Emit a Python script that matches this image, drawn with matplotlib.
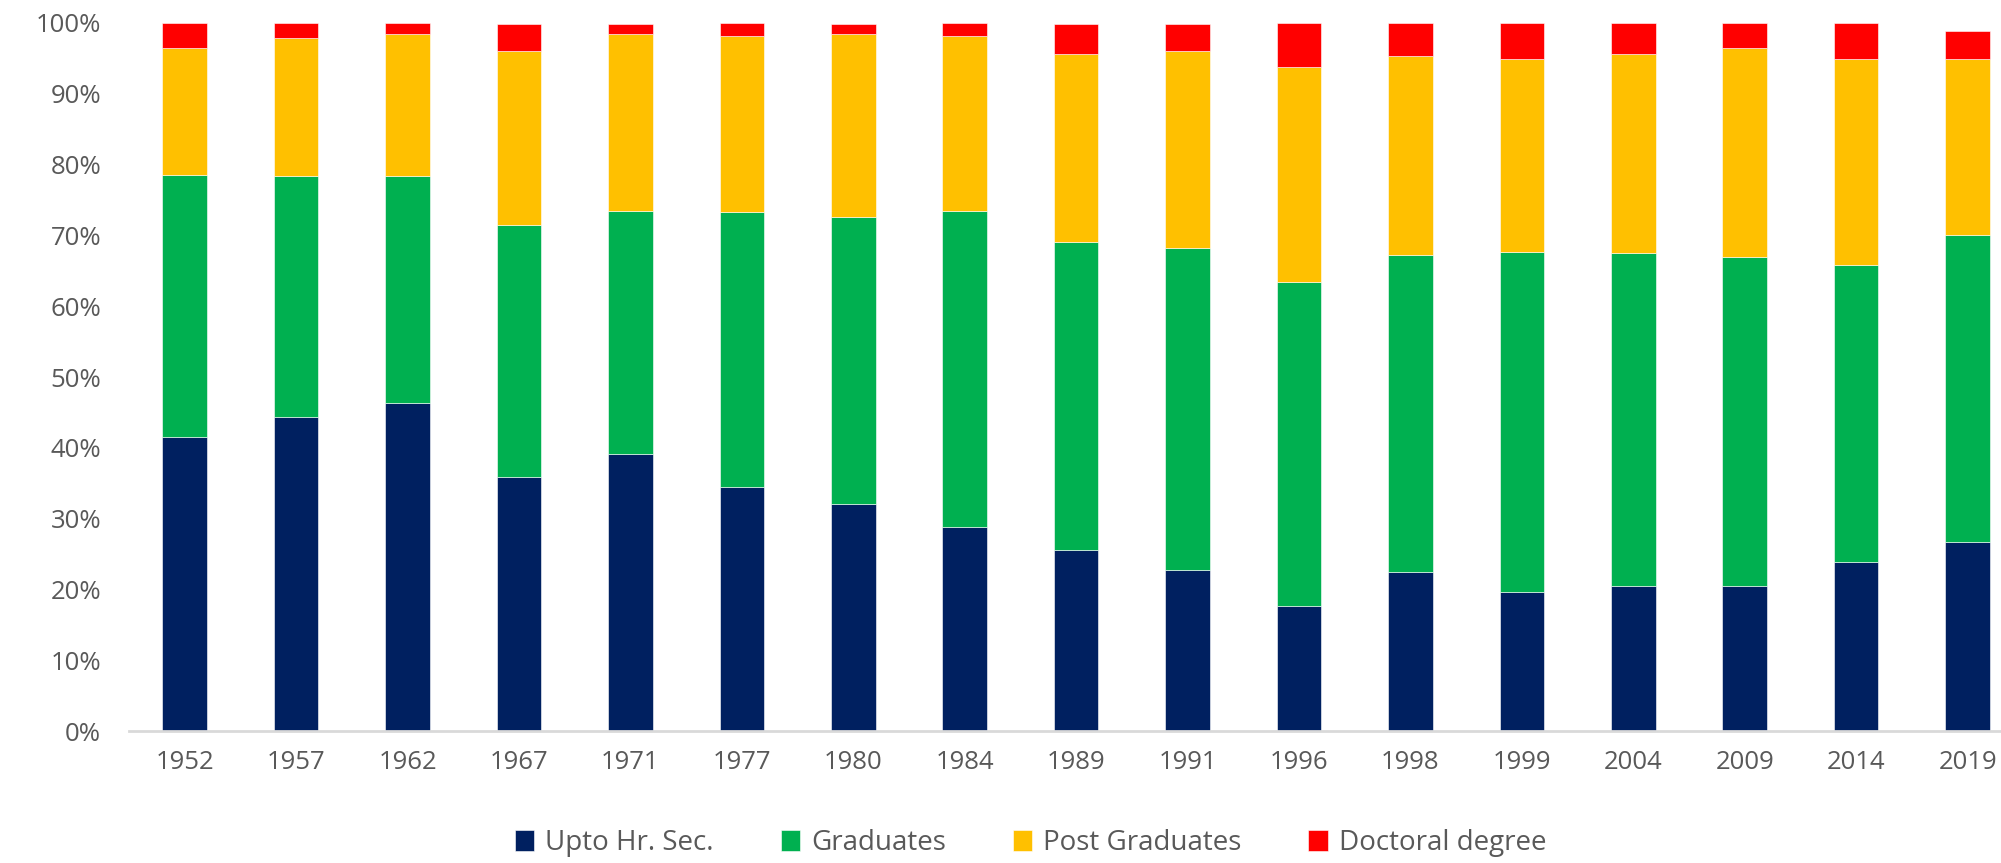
import matplotlib.pyplot as plt
import numpy as np

plt.rcParams['font.family'] = ['Open Sans', 'DejaVu Sans']

years = ['1952', '1957', '1962', '1967', '1971', '1977', '1980', '1984', '1989',
         '1991', '1996', '1998', '1999', '2004', '2009', '2014', '2019']
upto_hr_sec = [41.5, 44.4, 46.3, 35.9, 39.1, 34.5, 32.1, 28.8, 25.5,
               22.7, 17.7, 22.5, 19.6, 20.5, 20.5, 23.9, 26.7]
graduates = [37.1, 34.0, 32.1, 35.5, 34.4, 38.8, 40.5, 44.7, 43.5,
             45.5, 45.7, 44.7, 48.1, 47.0, 46.5, 41.9, 43.3]
post_graduates = [17.8, 19.5, 20.0, 24.7, 24.9, 24.8, 25.8, 24.6, 26.6,
                  27.9, 30.4, 28.2, 27.2, 28.1, 29.4, 29.1, 24.9]
doctoral = [3.6, 2.1, 1.6, 3.7, 1.4, 1.9, 1.4, 1.9, 4.2,
            3.7, 6.2, 4.6, 5.1, 4.4, 3.6, 5.1, 4.0]

series = [('Upto Hr. Sec.', upto_hr_sec, '#002060'),
          ('Graduates', graduates, '#00B050'),
          ('Post Graduates', post_graduates, '#FFC000'),
          ('Doctoral degree', doctoral, '#FF0000')]

fig = plt.figure(figsize=(20.01, 8.63), dpi=100)
ax = fig.add_axes([129 / 2001, 132 / 863, (2001 - 129) / 2001, 708 / 863])

x = np.arange(len(years))
bottom = np.zeros(len(years))
for name, vals, col in series:
    vals = np.array(vals)
    ax.bar(x, vals, 0.40, bottom=bottom, color=col, label=name,
           edgecolor='white', linewidth=0.4)
    bottom += vals

ax.set_xlim(-0.5, 16.3)
ax.set_ylim(0, 100)
ax.set_yticks(np.arange(0, 101, 10))
ax.set_yticklabels([f'{v}%' for v in range(0, 101, 10)])
ax.set_xticks(x)
ax.set_xticklabels(years)

for s in ['top', 'right', 'left']:
    ax.spines[s].set_visible(False)
ax.spines['bottom'].set_color('#D9D9D9')
ax.spines['bottom'].set_linewidth(2)
ax.tick_params(axis='both', length=0, labelsize=18.5, labelcolor='#595959')
ax.tick_params(axis='y', pad=20)
ax.tick_params(axis='x', pad=14)

leg = fig.legend(loc='center', bbox_to_anchor=(0.515, 1 - 843 / 863), ncol=4,
                 frameon=False, fontsize=20, handlelength=0.7, handleheight=0.8,
                 columnspacing=2.4, handletextpad=0.4)
for t in leg.get_texts():
    t.set_color('#595959')

fig.savefig('out.png', dpi=100)
